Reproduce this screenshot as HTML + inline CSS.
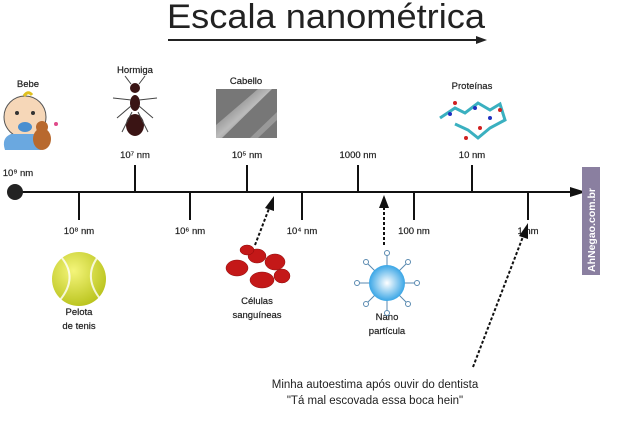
<!DOCTYPE html>
<html><head><meta charset="utf-8"><style>
html,body{margin:0;padding:0;background:#fff;}
svg{display:block;}
text{font-family:"Liberation Sans",sans-serif;fill:#222;}
</style></head><body>
<svg width="620" height="444" viewBox="0 0 620 444" xmlns="http://www.w3.org/2000/svg">
<defs>
<radialGradient id="ball" cx="0.4" cy="0.35" r="0.7"><stop offset="0" stop-color="#f4f57a"/><stop offset="1" stop-color="#b8c21a"/></radialGradient>
<radialGradient id="nano" cx="0.5" cy="0.5" r="0.5"><stop offset="0" stop-color="#ffffff"/><stop offset="1" stop-color="#3aa6e6"/></radialGradient>
<linearGradient id="hair" x1="0" y1="0" x2="1" y2="1"><stop offset="0" stop-color="#555"/><stop offset="0.5" stop-color="#bbb"/><stop offset="1" stop-color="#444"/></linearGradient>
</defs>
<text x="326" y="28" font-size="34" text-anchor="middle" textLength="318" lengthAdjust="spacingAndGlyphs" fill="#1a1a1a">Escala nanométrica</text>
<line x1="168" y1="40" x2="478" y2="40" stroke="#222" stroke-width="2"/>
<polygon points="476,36 487,40 476,44" fill="#222"/>

<line x1="15" y1="192" x2="574" y2="192" stroke="#111" stroke-width="2"/>
<polygon points="570,187 586,192 570,197" fill="#111"/>
<circle cx="15" cy="192" r="8" fill="#222"/>
<g stroke="#111" stroke-width="2">
<line x1="135" y1="165" x2="135" y2="192"/><line x1="247" y1="165" x2="247" y2="192"/>
<line x1="358" y1="165" x2="358" y2="192"/><line x1="472" y1="165" x2="472" y2="192"/>
<line x1="79" y1="192" x2="79" y2="220"/><line x1="190" y1="192" x2="190" y2="220"/>
<line x1="302" y1="192" x2="302" y2="220"/><line x1="414" y1="192" x2="414" y2="220"/>
<line x1="528" y1="192" x2="528" y2="220"/>
</g>
<g font-size="9.5" text-anchor="middle" stroke="#222" stroke-width="0.2">
<text x="18" y="176">10⁹ nm</text>
<text x="135" y="158">10⁷ nm</text>
<text x="247" y="158">10⁵ nm</text>
<text x="358" y="158">1000 nm</text>
<text x="472" y="158">10 nm</text>
<text x="79" y="234">10⁸ nm</text>
<text x="190" y="234">10⁶ nm</text>
<text x="302" y="234">10⁴ nm</text>
<text x="414" y="234">100 nm</text>
<text x="528" y="234">1 nm</text>
<text x="28" y="87">Bebe</text>
<text x="135" y="73">Hormiga</text>
<text x="246" y="84">Cabello</text>
<text x="472" y="89">Proteínas</text>
<text x="79" y="315">Pelota</text><text x="79" y="329">de tenis</text>
<text x="257" y="304">Células</text><text x="257" y="318">sanguíneas</text>
<text x="387" y="320">Nano</text><text x="387" y="334">partícula</text>
</g>

<circle cx="25" cy="117" r="21" fill="#f6d7b8" stroke="#555"/>
<circle cx="17" cy="113" r="2" fill="#333"/><circle cx="33" cy="113" r="2" fill="#333"/>
<ellipse cx="25" cy="127" rx="7" ry="5" fill="#4a8fd0"/>
<path d="M5 150 q-4 -12 6 -16 h26 q8 6 4 16 z" fill="#6aa8e0"/>
<ellipse cx="42" cy="139" rx="9" ry="11" fill="#b8692e"/>
<circle cx="42" cy="127" r="6" fill="#b8692e"/>
<circle cx="56" cy="124" r="2" fill="#e04a8a"/>
<path d="M24 96 q4 -6 8 -1" stroke="#e0c020" stroke-width="3" fill="none"/>

<g fill="#3a1414">
<ellipse cx="135" cy="88" rx="5" ry="5"/>
<ellipse cx="135" cy="103" rx="5" ry="8"/>
<ellipse cx="135" cy="125" rx="9" ry="11"/>
</g>
<g stroke="#444" stroke-width="1" fill="none">
<path d="M131 84 l-6 -8 M139 84 l6 -8 M131 100 l-18 -2 M139 100 l18 -2 M131 106 l-14 12 M139 106 l14 12 M132 112 l-10 20 M138 112 l10 20"/>
</g>

<rect x="216" y="89" width="61" height="49" fill="#777"/>
<path d="M216 125 L258 89 L272 89 L222 138 L216 138Z" fill="url(#hair)"/>
<path d="M250 138 L277 112 L277 120 L258 138Z" fill="#999"/>

<g stroke="#3ab0c0" stroke-width="3" fill="none">
<path d="M440 118 L455 108 L465 113 L478 103 L490 110 L500 104 L505 120 L490 128 L478 138 L468 130 L455 124"/>
</g>
<g fill="#d02020"><circle cx="455" cy="103" r="2"/><circle cx="480" cy="128" r="2"/><circle cx="500" cy="110" r="2"/><circle cx="466" cy="138" r="2"/></g>
<g fill="#2030c0"><circle cx="450" cy="114" r="2"/><circle cx="490" cy="118" r="2"/><circle cx="475" cy="108" r="2"/></g>

<circle cx="79" cy="279" r="27" fill="url(#ball)"/>
<path d="M62 258 q16 20 -2 42 M97 258 q-14 20 4 42" stroke="#fff" stroke-width="2" fill="none" opacity="0.8"/>

<g fill="#c41818" stroke="#8a0a0a" stroke-width="0.5">
<ellipse cx="237" cy="268" rx="11" ry="8"/><ellipse cx="257" cy="256" rx="9" ry="7"/>
<ellipse cx="275" cy="262" rx="10" ry="8"/><ellipse cx="262" cy="280" rx="12" ry="8"/>
<ellipse cx="282" cy="276" rx="8" ry="7"/><ellipse cx="247" cy="250" rx="7" ry="5"/>
</g>

<g stroke="#5a8ab0" stroke-width="1" fill="#fff">
<path d="M387 283 m-30 0 h60 M387 253 v60 M366 262 l42 42 M408 262 l-42 42"/>
<circle cx="357" cy="283" r="2.5"/><circle cx="417" cy="283" r="2.5"/><circle cx="387" cy="253" r="2.5"/><circle cx="387" cy="313" r="2.5"/>
<circle cx="366" cy="262" r="2.5"/><circle cx="408" cy="262" r="2.5"/><circle cx="366" cy="304" r="2.5"/><circle cx="408" cy="304" r="2.5"/>
</g>
<circle cx="387" cy="283" r="18" fill="url(#nano)"/>

<g stroke="#111" stroke-width="2" stroke-dasharray="3,2" fill="none">
<line x1="255" y1="245" x2="270" y2="206"/>
<line x1="384" y1="245" x2="384" y2="206"/>
<line x1="473" y1="367" x2="524" y2="234"/>
</g>
<polygon points="274,196 265,208 274,211" fill="#111"/>
<polygon points="384,195 379,208 389,208" fill="#111"/>
<polygon points="528,223 519,236 528,239" fill="#111"/>

<text x="375" y="388" font-size="11.5" text-anchor="middle">Minha autoestima após ouvir do dentista</text>
<text x="375" y="404" font-size="11.5" text-anchor="middle">"Tá mal escovada essa boca hein"</text>

<rect x="582" y="167" width="18" height="108" fill="#8a7fa0"/>
<text transform="translate(595,272) rotate(-90)" font-size="10.5" font-weight="bold" style="fill:#fff">AhNegao.com.br</text>
</svg>
</body></html>
